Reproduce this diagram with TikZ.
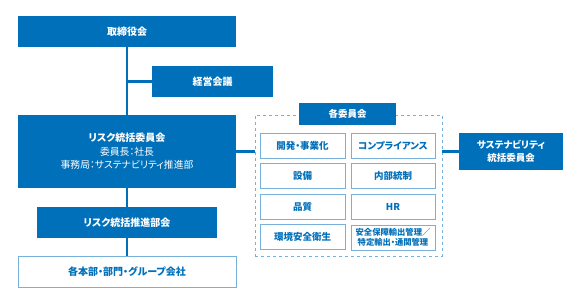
\documentclass[tikz,border=0pt]{standalone}
\usepackage{fontspec}
\setmainfont[RawFeature=+palt]{Noto Sans CJK JP}
\usepackage{tikz}
\usetikzlibrary{positioning,calc}
\definecolor{riskblue}{RGB}{0,112,186}
\definecolor{riskline}{RGB}{120,176,220}

\begin{document}
\begin{tikzpicture}[x=1pt,y=-1pt,
  bluebox/.style={fill=riskblue, text=white, font=\fontsize{10}{13}\selectfont\bfseries, align=center, inner sep=0pt},
  whitebox/.style={fill=white, draw=riskline, line width=0.9pt, text=riskblue, font=\fontsize{9.5}{12}\selectfont\bfseries, align=center, inner sep=0pt},
  link/.style={draw=riskblue, line width=2.8pt}]
\useasboundingbox (0,0) rectangle (580,304);
% main column
\node[bluebox, minimum width=218pt, minimum height=31pt] (board) at (127,31.5) {取締役会};
\node[bluebox, minimum width=121pt, minimum height=31pt] (mgmt) at (212.5,81.5) {経営会議};
\node[bluebox, minimum width=218pt, minimum height=73pt] (risk) at (127,151.5) {リスク統括委員会\\[1pt]{\mdseries\fontsize{9.8}{14.5}\selectfont 委員長：社長}\\{\mdseries\fontsize{9.8}{14.5}\selectfont 事務局：サステナビリティ推進部}};
\node[bluebox, minimum width=180pt, minimum height=31pt] (promo) at (127,222.5) {リスク統括推進部会};
\node[whitebox, minimum width=218pt, minimum height=31pt, font=\fontsize{10}{12}\selectfont\bfseries] (div) at (127,271.5) {各本部・部門・グループ会社};
% committees
\node[draw=riskline, dashed, line width=0.9pt, minimum width=187pt, minimum height=141pt] (cmt) at (348.5,185.5) {};
\node[bluebox, minimum width=97pt, minimum height=22pt, font=\fontsize{9.5}{12}\selectfont\bfseries] (cmthead) at (347.5,114) {各委員会};
\foreach \name/\txt [count=\i] in {dev/開発・事業化, equip/設備, qual/品質, env/環境安全衛生}
  \node[whitebox, minimum width=85pt, minimum height=25pt] (\name) at (302.5,{145.5+(\i-1)*30.5}) {\txt};
\foreach \name/\txt [count=\i] in {comp/コンプライアンス, ictrl/内部統制, hr/HR}
  \node[whitebox, minimum width=84pt, minimum height=25pt] (\name) at (393,{145.5+(\i-1)*30.5}) {\txt};
\node[whitebox, minimum width=84pt, minimum height=25pt, font=\fontsize{8.3}{10}\selectfont\bfseries] (trade) at (393,237.5) {安全保障輸出管理／\\特定輸出・通関管理};
\node[bluebox, minimum width=104pt, minimum height=37pt, font=\fontsize{9.5}{13}\selectfont\bfseries] (sus) at (511,151.5) {サステナビリティ\\統括委員会};
% connectors
\draw[link] (board.south) -- (risk.north);
\draw[link] (mgmt.west) -- (mgmt.west -| board.south);
\draw[link] (risk.south) -- (promo.north);
\draw[link] (promo.south) -- (div.north);
\draw[link] (risk.east) -- (risk.east -| cmt.west);
\draw[link] (sus.west -| cmt.east) -- (sus.west);
\end{tikzpicture}
\end{document}
